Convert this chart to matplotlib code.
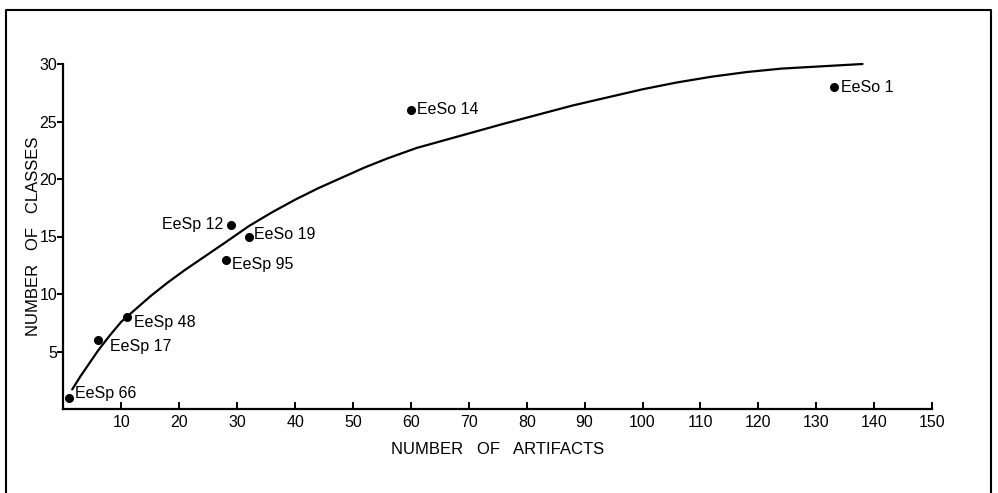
import matplotlib
matplotlib.use("Agg")
import matplotlib.pyplot as plt
from matplotlib.lines import Line2D

plt.rcParams['font.family'] = ['Liberation Sans', 'DejaVu Sans']

# data points (artifacts, classes)
site_names = ["EeSp 66", "EeSp 17", "EeSp 48", "EeSp 95", "EeSp 12", "EeSo 19", "EeSo 14", "EeSo 1"]
artifacts = [1, 6, 11, 28, 29, 32, 60, 133]
classes = [1, 6, 8, 13, 16, 15, 26, 28]

# fitted curve
curve_x = [1.5, 3, 4.5, 6, 8, 10, 12.5, 15, 18, 21, 24.5, 28, 32, 36, 40, 44, 48, 52,
           56, 61, 66, 71, 76, 82, 88, 94, 100, 106, 112, 118, 124, 131, 138]
curve_y = [1.7, 2.9, 4.0, 5.1, 6.4, 7.6, 8.7, 9.8, 11.0, 12.1, 13.3, 14.5, 15.9, 17.1, 18.2, 19.2, 20.1, 21.0,
           21.8, 22.7, 23.4, 24.1, 24.8, 25.6, 26.4, 27.1, 27.8, 28.4, 28.9, 29.3, 29.6, 29.8, 30.0]

x_ticks = [10, 20, 30, 40, 50, 60, 70, 80, 90, 100, 110, 120, 130, 140, 150]
y_ticks = [5, 10, 15, 20, 25, 30]

# label offsets in pixels (dx, dy, ha)
offsets = {
    "EeSp 66": (6, 4, 'left'),
    "EeSp 17": (12, -7, 'left'),
    "EeSp 48": (7, -6, 'left'),
    "EeSp 95": (6, -5, 'left'),
    "EeSp 12": (-8, 0, 'right'),
    "EeSo 19": (5, 2, 'left'),
    "EeSo 14": (6, 0, 'left'),
    "EeSo 1": (7, 0, 'left'),
}

fig = plt.figure(figsize=(9.98, 4.93), dpi=100)
ax = fig.add_axes([63.5 / 998, 1 - 409 / 493, (932 - 63.5) / 998, (409 - 64) / 493])

ax.plot(curve_x, curve_y, color='black', lw=1.6, solid_capstyle='round',
        solid_joinstyle='round', clip_on=False)
ax.plot(artifacts, classes, 'o', color='black', ms=5.5, clip_on=False)

for name, xv, yv in zip(site_names, artifacts, classes):
    dx, dy, ha = offsets[name]
    ax.annotate(name, (xv, yv), xytext=(dx, dy), textcoords='offset pixels',
                ha=ha, va='center', fontsize=11.5)

ax.set_xlim(0, 150)
ax.set_ylim(0, 30)
ax.set_xticks(x_ticks)
ax.set_yticks(y_ticks)
ax.tick_params(axis='x', direction='in', length=5, width=1.4, labelsize=11.5, pad=4)
ax.tick_params(axis='y', direction='out', length=4, width=1.4, labelsize=11.5, pad=0.5)
for s in ['top', 'right']:
    ax.spines[s].set_visible(False)
for s in ['left', 'bottom']:
    ax.spines[s].set_linewidth(1.6)

ax.set_xlabel("NUMBER   OF   ARTIFACTS", fontsize=12, labelpad=9)
ax.set_ylabel("NUMBER   OF   CLASSES", fontsize=12, labelpad=-1)

# outer frame (left, top, right)
fx = [6 / 998, 6 / 998, 991 / 998, 991 / 998]
fy = [0, 1 - 10 / 493, 1 - 10 / 493, 0]
fig.add_artist(Line2D(fx, fy, color='black', lw=1.5, transform=fig.transFigure))

fig.savefig("out.png", dpi=100, facecolor='white')
